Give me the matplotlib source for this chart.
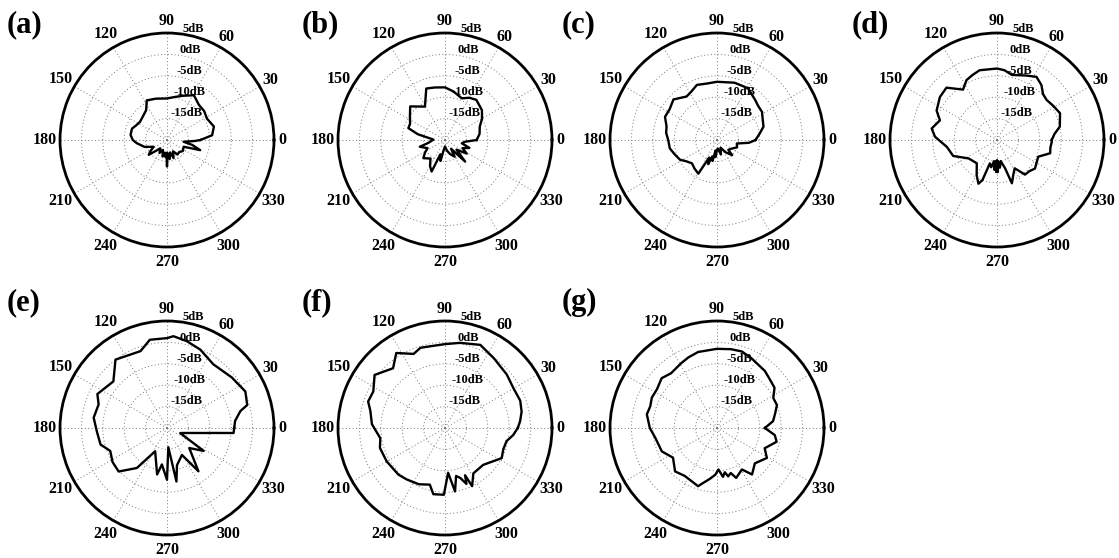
import numpy as np
import matplotlib
matplotlib.use("Agg")
import matplotlib.pyplot as plt

plt.rcParams["font.family"] = ["Liberation Serif", "DejaVu Serif"]
plt.rcParams["font.weight"] = "bold"

# measured patterns: angle (deg) -> level (dB)
ang_a = [0, 6, 16, 28, 38, 48, 59, 70, 80, 90, 105, 117, 125, 133, 146, 155, 162, 172, 180, 186, 197, 207,
         213, 219, 225, 231, 240, 248, 255, 260, 265, 268, 270, 272, 278, 284, 290, 298, 306, 315, 325, 338,
         343, 349, 354, 358, 360]
db_a = [-12.2, -9.4, -8.6, -9.4, -9.0, -8.9, -7.8, -9.0, -9.8, -10.3, -10.0, -9.6, -11.5, -12.0, -12.4, -12.0,
        -11.4, -11.4, -12.0, -12.9, -14.5, -16.5, -15.5, -14.5, -16.5, -17.5, -16.5, -17.5, -16.0, -17.0, -16.0,
        -17.0, -13.8, -17.0, -15.5, -17.0, -15.5, -17.0, -15.8, -16.0, -15.5, -15.8, -11.9, -14.0, -16.1,
        -13.5, -12.2]

ang_b = [0, 10, 21, 30, 39, 52, 60, 68, 80, 90, 101, 110, 121, 136, 145, 155, 162, 168, 178, 190, 195, 205,
         212, 220, 232, 240, 247, 252, 258, 262, 270, 280, 290, 300, 305, 313, 320, 328, 335, 342, 349, 355, 360]
db_b = [-12.6, -11.8, -11.3, -10.0, -8.9, -8.1, -8.6, -9.5, -8.5, -7.7, -7.5, -7.2, -10.9, -8.7, -10.0, -11.0,
        -11.0, -13.5, -17.3, -16.0, -13.9, -15.5, -14.5, -13.4, -14.5, -13.0, -12.0, -16.5, -15.0, -17.5, -18.5,
        -17.5, -16.5, -15.5, -17.5, -13.1, -16.5, -14.0, -15.5, -14.0, -16.0, -15.3, -12.6]

ang_c = [0, 8, 16, 24, 32, 40, 46, 59, 73, 90, 100, 110, 118, 125, 137, 147, 156, 165, 172, 180, 190, 198, 208,
         215, 223, 232, 241, 246, 250, 254, 258, 262, 265, 270, 276, 285, 295, 305, 315, 319, 330, 340, 350, 355, 360]
db_c = [-11.0, -10.0, -8.7, -8.3, -7.6, -7.5, -7.1, -5.9, -6.0, -6.4, -6.6, -6.3, -7.2, -7.6, -6.1, -6.8, -6.7,
        -7.8, -8.0, -8.6, -8.8, -9.5, -10.2, -11.3, -12.0, -11.5, -11.0, -15.5, -14.0, -16.0, -15.0, -17.5, -16.0,
        -17.7, -18.0, -16.5, -18.0, -16.5, -15.0, -16.5, -16.0, -15.0, -15.3, -12.5, -11.0]

ang_d = [0, 6, 12, 23, 31, 39, 45, 51, 58, 66, 77, 84, 90, 104, 111, 117, 124, 134, 143, 154, 161, 170, 177,
         188, 200, 213, 229, 240, 247, 250, 253, 258, 262, 265, 267, 268.5, 270, 271.5, 273, 276, 280, 286, 289,
         295, 302, 309, 316, 323, 338, 346, 352, 358, 360]
db_d = [-7.2, -6.5, -5.0, -4.0, -4.6, -5.1, -4.8, -3.5, -2.6, -3.5, -4.4, -3.6, -3.3, -3.2, -3.8, -4.3, -5.8,
        -3.0, -3.3, -4.3, -5.9, -4.5, -5.5, -8.2, -9.1, -12.1, -12.8, -10.5, -8.9, -10.0, -14.3, -13.5, -15.0,
        -13.0, -15.0, -12.5, -15.3, -12.5, -15.0, -13.5, -15.0, -13.1, -9.3, -11.0, -12.2, -9.6, -9.5, -8.9,
        -9.6, -7.2, -7.4, -7.2, -7.2]

ang_e = [0, 6, 13, 16, 25, 38, 54, 67, 77, 86, 90, 101, 109, 127, 139, 154, 161, 172, 183, 194, 202, 212, 222,
         233, 243, 258, 262, 270, 274, 280, 285, 299, 306, 318, 328, 339, 343, 348, 352, 354, 355.7, 360]
db_e = [-4.3, -4.0, -2.4, -0.5, 0.2, -0.8, -1.6, -0.1, 0.8, 1.5, 1.0, 1.0, -1.0, 0.0, -3.4, -1.9, -3.1, -2.7,
        -3.6, -4.0, -5.7, -5.0, -4.8, -8.3, -13.9, -8.9, -11.4, -7.9, -15.5, -7.3, -11.0, -12.8, -7.5, -13.0,
        -9.9, -16.7, -16.0, -14.4, -11.6, -8.9, -4.4, -4.3]

ang_f = [0, 5, 12, 20, 30, 41, 55, 67, 80, 90, 100, 107, 113, 123, 131, 143, 153, 161, 167, 177, 189, 197, 210,
         225, 233, 245, 255, 260, 269, 274, 279, 283, 287, 291, 293, 295, 302, 316, 332, 340, 348, 354, 360]
db_f = [-3.0, -2.4, -1.7, -1.3, -1.5, -0.9, -0.1, 1.1, 0.2, -0.4, -0.6, -0.4, -1.2, 0.9, -1.5, 0.6, -1.2, -1.0,
        -2.1, -2.9, -4.7, -4.1, -4.3, -4.6, -5.0, -5.5, -6.3, -4.3, -4.4, -9.5, -5.0, -8.5, -7.8, -6.0, -8.0,
        -5.0, -7.5, -7.6, -5.0, -5.5, -5.3, -4.0, -3.0]

ang_g = [0, 7, 14, 21, 28, 35, 43, 50, 64, 72, 80, 90, 104, 112, 119, 130, 138, 147, 155, 162, 169, 180, 189,
         203, 214, 226, 236, 245, 252, 256, 262, 268, 272, 277, 280, 283, 287, 291, 301, 307, 317, 329, 337,
         347, 353, 360]
db_g = [-8.8, -6.8, -6.0, -5.0, -5.1, -3.6, -3.2, -2.6, -1.8, -1.2, -1.3, -1.5, -1.7, -2.2, -2.7, -3.3, -2.6,
        -3.3, -3.2, -3.6, -3.3, -4.3, -5.4, -6.0, -7.6, -5.9, -6.5, -6.2, -5.7, -6.8, -8.0, -9.1, -10.3, -8.5,
        -9.5, -8.4, -9.0, -7.5, -8.7, -6.4, -7.9, -6.4, -7.9, -5.7, -6.4, -8.8]

panels = ["(a)", "(b)", "(c)", "(d)", "(e)", "(f)", "(g)"]
angles = [ang_a, ang_b, ang_c, ang_d, ang_e, ang_f, ang_g]
levels = [db_a, db_b, db_c, db_d, db_e, db_f, db_g]
ring_db = [-15, -10, -5, 0]
ring_labels = ["-15dB", "-10dB", "-5dB", "0dB", "5dB"]
theta_ticks = list(range(0, 360, 30))

W, H = 1119, 558
R = 107
px_per_db = R / 25.0
fig = plt.figure(figsize=(W / 100, H / 100), dpi=100)

centers = [(167, 140), (445, 140), (717, 140), (997, 140), (167, 428), (445, 428), (717, 428)]
label_xy = [(7, 10), (302, 10), (562, 10), (852, 10), (7, 288), (302, 288), (562, 288)]

for i, name in enumerate(panels):
    cx, cy = centers[i]
    ax = fig.add_axes([(cx - R) / W, (H - cy - R) / H, 2 * R / W, 2 * R / H], projection="polar")
    th = np.deg2rad(angles[i])
    ax.plot(th, levels[i], color="black", lw=1.7)
    ax.set_ylim(-20, 5)
    ax.set_yticks(ring_db)
    ax.set_yticklabels([])
    ax.set_xticks(np.deg2rad(theta_ticks))
    ax.set_xticklabels([])
    ax.tick_params(axis="x", direction="in", length=5, width=1.2)
    ax.grid(True, ls=(0, (1, 2.5)), color="#777777", lw=0.7)
    ax.spines["polar"].set_linewidth(2)
    # angle labels centred just outside the rim
    for a in theta_ticks:
        txt = str(a)
        r_lab = 5 + (112 + 3.5 * len(txt)) / px_per_db - 25
        ax.text(np.deg2rad(a), r_lab, txt, fontsize=11.5, fontweight="bold",
                ha="center", va="center")
    for v, lab in zip(ring_db + [5], ring_labels):
        ax.text(np.deg2rad(82), v + 1.3, lab, fontsize=9, fontweight="bold",
                ha="left", va="center")
    lx, ly = label_xy[i]
    fig.text(lx / W, 1 - ly / H, name, fontsize=22, fontweight="bold", ha="left", va="top")

fig.savefig("out.png", dpi=100)
